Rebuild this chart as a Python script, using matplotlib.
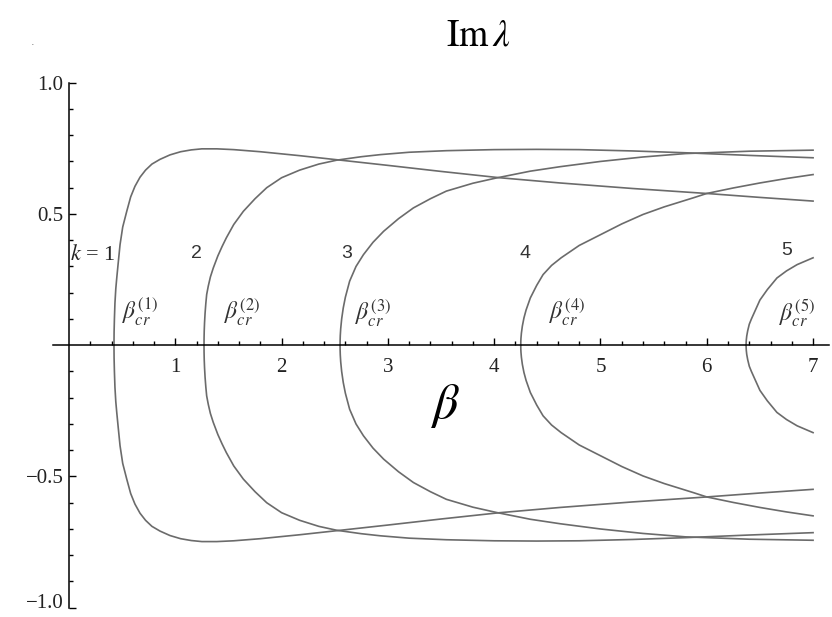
"""Imaginary part of the eigenvalue branches versus beta, k = 1..5."""

import matplotlib

matplotlib.use("Agg")
import matplotlib.pyplot as plt
import matplotlib.transforms as mtransforms
from matplotlib.ticker import FixedLocator

# upper branches (Im lambda >= 0); the lower branches are their mirror images
beta_k1 = [0.423, 0.424, 0.427, 0.432, 0.44, 0.449, 0.462, 0.48, 0.505, 0.543, 0.58, 0.62,
           0.668, 0.72, 0.78, 0.856, 0.95, 1.05, 1.15, 1.25, 1.39, 1.55, 1.80, 2.17, 2.53,
           3.0, 3.5, 4.05, 4.62, 5.3, 6.0, 6.5, 7.0]
im_k1 = [0.0, 0.05, 0.10, 0.16, 0.215, 0.256, 0.31, 0.383, 0.45, 0.51, 0.565, 0.605,
         0.64, 0.667, 0.69, 0.708, 0.725, 0.737, 0.744, 0.748, 0.748, 0.745, 0.737, 0.722, 0.706,
         0.685, 0.662, 0.638, 0.618, 0.597, 0.578, 0.563, 0.549]

beta_k2 = [1.27, 1.2705, 1.272, 1.275, 1.28, 1.287, 1.295, 1.31, 1.33, 1.357, 1.40, 1.44,
           1.48, 1.55, 1.64, 1.75, 1.86, 2.0, 2.17, 2.35, 2.52, 2.75, 2.93, 3.2, 3.55, 4.0,
           4.4, 4.8, 5.3, 5.8, 6.4, 7.0]
im_k2 = [0.0, 0.027, 0.055, 0.086, 0.122, 0.159, 0.193, 0.225, 0.26, 0.294, 0.34, 0.376,
         0.409, 0.46, 0.51, 0.558, 0.60, 0.638, 0.667, 0.69, 0.705, 0.718, 0.726, 0.735, 0.741, 0.745,
         0.746, 0.745, 0.740, 0.733, 0.723, 0.714]

beta_k3 = [2.55, 2.5505, 2.552, 2.556, 2.565, 2.58, 2.60, 2.64, 2.70, 2.77, 2.86, 2.96, 3.1,
           3.24, 3.4, 3.55, 3.8, 4.02, 4.34, 4.62, 5.0, 5.4, 5.8, 6.4, 7.0]
im_k3 = [0.0, 0.018, 0.037, 0.063, 0.10, 0.142, 0.183, 0.244, 0.30, 0.345, 0.392, 0.434, 0.482,
         0.523, 0.558, 0.587, 0.617, 0.637, 0.663, 0.68, 0.70, 0.717, 0.73, 0.739, 0.743]

beta_k4 = [4.25, 4.2505, 4.252, 4.256, 4.265, 4.28, 4.30, 4.34, 4.40, 4.46, 4.54, 4.63, 4.8,
           5.0, 5.2, 5.4, 5.6, 5.87, 6.0, 6.25, 6.5, 6.75, 7.0]
im_k4 = [0.0, 0.015, 0.027, 0.046, 0.073, 0.104, 0.134, 0.18, 0.228, 0.269, 0.304, 0.333, 0.38,
         0.421, 0.462, 0.498, 0.527, 0.561, 0.578, 0.599, 0.618, 0.635, 0.65]

beta_k5 = [6.37, 6.3705, 6.372, 6.376, 6.385, 6.40, 6.42, 6.45, 6.5, 6.57, 6.66, 6.75, 6.85, 7.0]
im_k5 = [0.0, 0.01, 0.02, 0.035, 0.055, 0.08, 0.10, 0.127, 0.172, 0.212, 0.256, 0.283, 0.307, 0.333]

branches = [(beta_k1, im_k1), (beta_k2, im_k2), (beta_k3, im_k3), (beta_k4, im_k4), (beta_k5, im_k5)]

k_labels = ["2", "3", "4", "5"]
k_label_beta = [1.20, 2.61, 4.29, 6.75]
k_label_im = [0.35, 0.35, 0.35, 0.36]

cr_beta = [0.67, 1.63, 2.86, 4.69, 6.85]
cr_im = [0.125, 0.125, 0.12, 0.125, 0.12]

plt.rcParams["mathtext.fontset"] = "stix"

fig = plt.figure(figsize=(8.32, 6.17), dpi=100)
ax = fig.add_axes([0.0638, 0.0065, 0.9326, 0.868])
ax.set_xlim(-0.15, 7.15)
ax.set_ylim(-1.02, 1.02)

line_color = "#6b6b6b"
for beta, im in branches:
    ax.plot(beta, im, color=line_color, lw=1.2)
    ax.plot(beta, [-v for v in im], color=line_color, lw=1.2)

# axes drawn through the origin, Mathematica style
for side in ("top", "right"):
    ax.spines[side].set_visible(False)
ax.spines["left"].set_position(("data", 0))
ax.spines["bottom"].set_position(("data", 0))
ax.spines["left"].set_bounds(-1, 1)
for side in ("left", "bottom"):
    ax.spines[side].set_linewidth(1.1)

ax.set_xticks([1, 2, 3, 4, 5, 6, 7])
ax.set_xticklabels(["1", "2", "3", "4", "5", "6", "7"])
ax.xaxis.set_minor_locator(FixedLocator([i / 5 for i in range(1, 36) if i % 5]))
ax.set_yticks([-1.0, -0.5, 0.5, 1.0])
ax.set_yticklabels(["\u22121.0", "\u22120.5", "0.5", "1.0"])
ax.yaxis.set_minor_locator(FixedLocator([i / 10 for i in range(-9, 10) if i % 5]))

ax.tick_params(which="both", direction="in", color="black", width=1.0)
ax.tick_params(which="major", length=5)
ax.tick_params(which="minor", length=3)
ax.tick_params(axis="x", which="major", pad=9)
ax.tick_params(axis="y", which="major", pad=4)
for lab in ax.get_xticklabels() + ax.get_yticklabels():
    lab.set_fontfamily("Liberation Serif")
    lab.set_fontsize(15)
    lab.set_color("#222222")

# keep the bottom label inside the canvas
bottom_label = ax.get_yticklabels()[0]
bottom_label.set_transform(bottom_label.get_transform()
                           + mtransforms.ScaledTranslation(0, 5 / 72, fig.dpi_scale_trans))

ax.text(0.01, 0.345, r"$k$ = 1", family="Liberation Serif", fontsize=16,
        ha="left", va="center", color="#222222")
for lab, bx, by in zip(k_labels, k_label_beta, k_label_im):
    ax.text(bx, by, lab, family="Liberation Sans", fontsize=14, ha="center", va="center",
            color="#333333")

for n, (bx, by) in enumerate(zip(cr_beta, cr_im), start=1):
    ax.text(bx, by, r"$\beta_{cr}^{(%d)}$" % n, fontsize=17, ha="center", va="center",
            color="#333333")

ax.text(3.54, -0.23, r"$\beta$", fontsize=36, ha="center", va="center", color="black")
fig.text(478 / 832, 1 - 35 / 617, r"$\mathrm{Im}\,\lambda$", fontsize=27, ha="center",
         va="center", color="black")
fig.text(33 / 832, 1 - 42 / 617, ".", fontsize=8, color="#777777", ha="center", va="center")

fig.savefig("out.png", dpi=100, facecolor="white")
